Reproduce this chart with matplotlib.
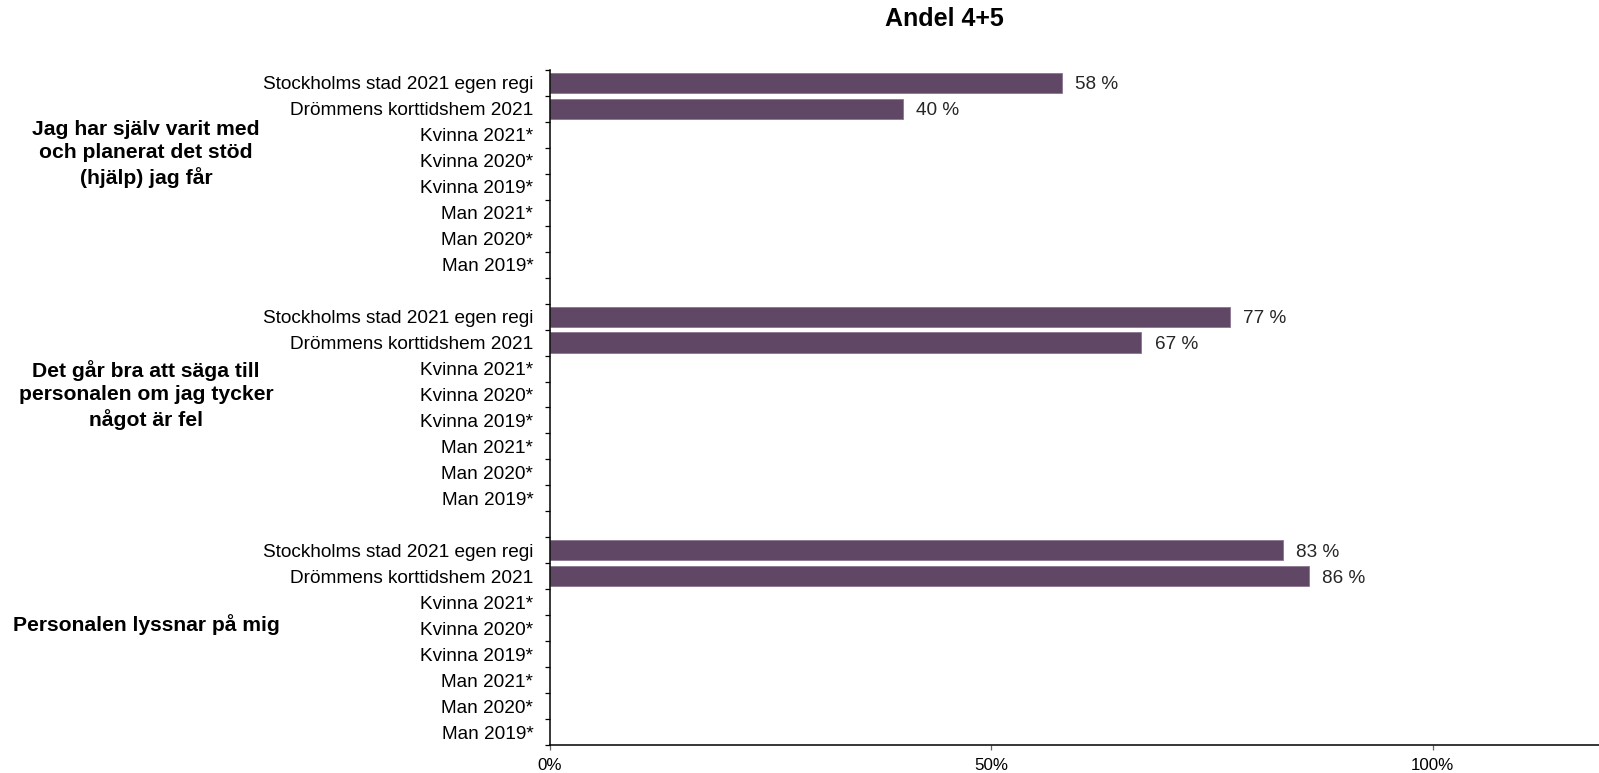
import matplotlib.pyplot as plt
import numpy as np

plt.rcParams['font.family'] = ['Liberation Sans', 'DejaVu Sans']

# data
questions = ['Jag har själv varit med\noch planerat det stöd\n(hjälp) jag får',
             'Det går bra att säga till\npersonalen om jag tycker\nnågot är fel',
             'Personalen lyssnar på mig']
categories = ['Stockholms stad 2021 egen regi', 'Drömmens korttidshem 2021',
              'Kvinna 2021*', 'Kvinna 2020*', 'Kvinna 2019*',
              'Man 2021*', 'Man 2020*', 'Man 2019*']
stockholm = [58, 77, 83]
drommen = [40, 67, 86]
xticks = [0, 50, 100]
xticklabels = ['0%', '50%', '100%']

# vertical nudge of each question text (in rows) from its block centre
label_shift = [-0.76, -0.48, -0.66]

bar_color = '#614766'
n_cat = len(categories)
slot = n_cat + 1  # one empty row between question blocks
n_rows = slot * len(questions) - 1

fig = plt.figure(figsize=(15.99, 7.73), dpi=100)
ax = fig.add_axes([550 / 1599, 1 - 745 / 773, 1 - 550 / 1599, (745 - 70) / 773])

label_pos, label_txt = [], []
for g, q in enumerate(questions):
    base = g * slot
    vals = [stockholm[g], drommen[g]] + [np.nan] * (n_cat - 2)
    ys = base + np.arange(n_cat)
    for y, v in zip(ys, vals):
        if not np.isnan(v):
            ax.barh(y, v, height=0.78, color=bar_color, edgecolor='#8a7590', linewidth=0.6)
            ax.text(v + 1.5, y, f'{v:.0f} %', va='center_baseline', ha='left',
                    fontsize=13.7, color='#262626')
    label_pos.extend(ys)
    label_txt.extend(categories)
    # question text to the left of the category labels
    ax.text(-0.385, base + (n_cat - 1) / 2 + label_shift[g], q,
            transform=ax.get_yaxis_transform(),
            ha='center', va='center', fontsize=15.2, fontweight='bold',
            linespacing=1.27)

ax.set_ylim(n_rows - 0.5, -0.5)
ax.set_xlim(0, 118.84)

# tick marks at row boundaries, labels at row centres
ax.set_yticks(np.arange(-0.5, n_rows, 1.0))
ax.set_yticklabels([])
ax.set_yticks(label_pos, minor=True)
ax.set_yticklabels(label_txt, minor=True, fontsize=13.7)
ax.tick_params(axis='y', which='major', length=3.6, width=0.9, direction='out')
ax.tick_params(axis='y', which='minor', length=0, pad=12)

ax.set_xticks(xticks)
ax.set_xticklabels(xticklabels, fontsize=12.2)
ax.tick_params(axis='x', length=3.6, width=0.9, color='#666666', pad=6)

for spine in ('top', 'right'):
    ax.spines[spine].set_visible(False)
for spine in ('left', 'bottom'):
    ax.spines[spine].set_linewidth(1.1)

fig.text(944 / 1599, 1 - 19 / 773, 'Andel 4+5', ha='center', va='center',
         fontsize=18, fontweight='bold')

fig.savefig('out.png', dpi=100)
